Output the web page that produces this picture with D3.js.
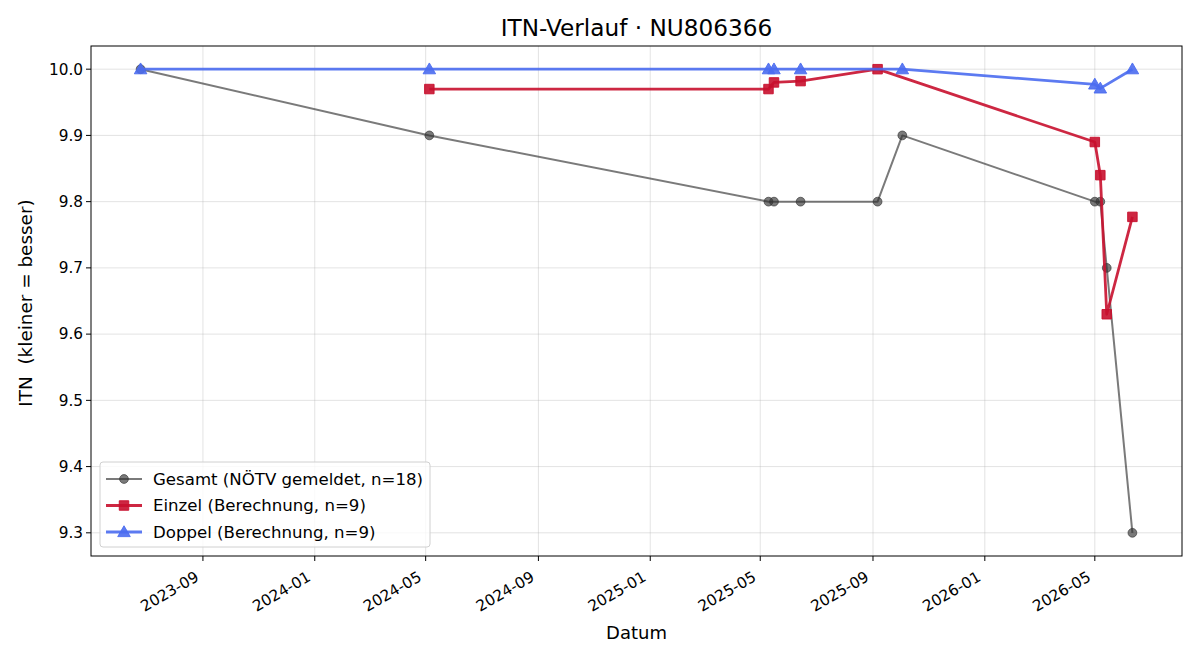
<!DOCTYPE html>
<html>
<head>
<meta charset="utf-8">
<script src="https://cdn.jsdelivr.net/npm/d3@7"></script>
<style>
  body { margin: 0; background: #fff; }
  svg { font-family: "DejaVu Sans", sans-serif; }
</style>
</head>
<body>
<svg id="svg" width="1200" height="660"></svg>
<script>
// data
var gesamtDates = ["2023-06-25","2024-05-05","2025-05-10","2025-05-16","2025-06-14","2025-09-06","2025-10-03","2026-05-01","2026-05-07","2026-05-14","2026-06-11"];
var gesamtValues = [10.0, 9.9, 9.8, 9.8, 9.8, 9.8, 9.9, 9.8, 9.8, 9.7, 9.3];

var einzelDates = ["2024-05-05","2025-05-10","2025-05-16","2025-06-14","2025-09-06","2026-05-01","2026-05-07","2026-05-14","2026-06-11"];
var einzelValues = [9.97, 9.97, 9.98, 9.982, 10.0, 9.89, 9.84, 9.63, 9.777];

var doppelDates = ["2023-06-25","2024-05-05","2025-05-10","2025-05-16","2025-06-14","2025-10-03","2026-05-01","2026-05-07","2026-06-11"];
var doppelValues = [10.0, 10.0, 10.0, 10.0, 10.0, 10.0, 9.977, 9.971, 10.0];

var seriesNames = ["Gesamt (NÖTV gemeldet, n=18)", "Einzel (Berechnung, n=9)", "Doppel (Berechnung, n=9)"];
var yTicks = [9.3, 9.4, 9.5, 9.6, 9.7, 9.8, 9.9, 10.0];
var xTickLabels = ["2023-09","2024-01","2024-05","2024-09","2025-01","2025-05","2025-09","2026-01","2026-05"];

var width = 1200, height = 660;
var pLeft = 91, pRight = 1182, pTop = 46, pBottom = 556;
var parse = d3.timeParse("%Y-%m-%d");
var parseM = d3.timeParse("%Y-%m");

function zip(ds, vs) { return ds.map(function(d, i) { return { date: parse(d), v: vs[i] }; }); }
var series = [
  { name: seriesNames[0], data: zip(gesamtDates, gesamtValues), color: "#333333", alpha: 0.65, lw: 2, marker: "circle" },
  { name: seriesNames[1], data: zip(einzelDates, einzelValues), color: "#c8102e", alpha: 0.9, lw: 2.8, marker: "square" },
  { name: seriesNames[2], data: zip(doppelDates, doppelValues), color: "#4a6cf0", alpha: 0.9, lw: 2.8, marker: "triangle" }
];

var allDates = [].concat.apply([], series.map(function(s) { return s.data.map(function(d) { return +d.date; }); }));
var dmin = d3.min(allDates), dmax = d3.max(allDates), pad = (dmax - dmin) * 0.05;
var x = d3.scaleTime().domain([new Date(dmin - pad), new Date(dmax + pad)]).range([pLeft, pRight]);
var y = d3.scaleLinear().domain([9.3 - 0.035, 10.0 + 0.035]).range([pBottom, pTop]);

var svg = d3.select("svg");
svg.append("rect").attr("width", width).attr("height", height).attr("fill", "#fff");

// grid
var xt = xTickLabels.map(function(t) { return parseM(t); });
svg.append("g").selectAll("line").data(xt).enter().append("line")
  .attr("x1", function(d) { return x(d); }).attr("x2", function(d) { return x(d); })
  .attr("y1", pTop).attr("y2", pBottom)
  .attr("stroke", "#b0b0b0").attr("stroke-opacity", 0.35).attr("stroke-width", 1);
svg.append("g").selectAll("line").data(yTicks).enter().append("line")
  .attr("x1", pLeft).attr("x2", pRight)
  .attr("y1", function(d) { return y(d); }).attr("y2", function(d) { return y(d); })
  .attr("stroke", "#b0b0b0").attr("stroke-opacity", 0.35).attr("stroke-width", 1);

// series
var line = d3.line().x(function(d) { return x(d.date); }).y(function(d) { return y(d.v); });
function symbolPath(m) {
  if (m === "circle") return d3.symbol().type(d3.symbolCircle).size(Math.PI * 4.4 * 4.4)();
  if (m === "square") return d3.symbol().type(d3.symbolSquare).size(9.5 * 9.5)();
  return d3.symbol().type(d3.symbolTriangle).size(68)();
}
series.forEach(function(s) {
  var g = svg.append("g");
  g.append("path").datum(s.data).attr("d", line)
    .attr("fill", "none").attr("stroke", s.color).attr("stroke-width", s.lw)
    .attr("stroke-opacity", s.alpha).attr("stroke-linejoin", "round");
  g.selectAll(".m").data(s.data).enter().append("path")
    .attr("d", symbolPath(s.marker))
    .attr("transform", function(d) { return "translate(" + x(d.date) + "," + (y(d.v) + (s.marker === "triangle" ? 1 : 0)) + ")"; })
    .attr("fill", s.color).attr("fill-opacity", s.alpha)
    .attr("stroke", s.color).attr("stroke-opacity", s.alpha).attr("stroke-width", 1);
});

// frame
svg.append("rect").attr("x", pLeft).attr("y", pTop).attr("width", pRight - pLeft).attr("height", pBottom - pTop)
  .attr("fill", "none").attr("stroke", "#000").attr("stroke-width", 1);

// x axis
var xg = svg.append("g");
xt.forEach(function(d, i) {
  var px = x(d);
  xg.append("line").attr("x1", px).attr("x2", px).attr("y1", pBottom).attr("y2", pBottom + 5).attr("stroke", "#000");
  xg.append("text").attr("transform", "translate(" + (px - 3) + "," + (pBottom + 24) + ") rotate(-30)")
    .attr("text-anchor", "end")
    .attr("font-size", 15.3).text(xTickLabels[i]);
});
svg.append("text").attr("x", (pLeft + pRight) / 2).attr("y", 639).attr("text-anchor", "middle")
  .attr("font-size", 18).text("Datum");

// y axis
var yg = svg.append("g");
yTicks.forEach(function(t) {
  var py = y(t);
  yg.append("line").attr("x1", pLeft - 5).attr("x2", pLeft).attr("y1", py).attr("y2", py).attr("stroke", "#000");
  yg.append("text").attr("x", pLeft - 8).attr("y", py).attr("dy", "0.35em").attr("text-anchor", "end")
    .attr("font-size", 15.3).text(d3.format(".1f")(t));
});
svg.append("text").attr("transform", "translate(32," + ((pTop + pBottom) / 2 + 2) + ") rotate(-90)")
  .attr("text-anchor", "middle").attr("font-size", 18.4).attr("xml:space", "preserve")
  .text("ITN  (kleiner = besser)");

// title
svg.append("text").attr("x", (pLeft + pRight) / 2).attr("y", 36).attr("text-anchor", "middle")
  .attr("font-size", 23.2).text("ITN-Verlauf · NU806366");

// legend
var lg = svg.append("g").attr("transform", "translate(100,462)");
lg.append("rect").attr("width", 330).attr("height", 85).attr("rx", 3)
  .attr("fill", "#fff").attr("fill-opacity", 0.8).attr("stroke", "#d0d0d0");
series.forEach(function(s, i) {
  var ry = 17 + i * 26.5;
  lg.append("line").attr("x1", 6).attr("x2", 42).attr("y1", ry).attr("y2", ry)
    .attr("stroke", s.color).attr("stroke-width", s.lw).attr("stroke-opacity", s.alpha);
  lg.append("path").attr("d", symbolPath(s.marker))
    .attr("transform", "translate(24," + (ry + (s.marker === "triangle" ? 1 : 0)) + ")")
    .attr("fill", s.color).attr("fill-opacity", s.alpha)
    .attr("stroke", s.color).attr("stroke-opacity", s.alpha);
  lg.append("text").attr("x", 53).attr("y", ry).attr("dy", "0.35em")
    .attr("font-size", 16.6).text(s.name);
});
</script>
</body>
</html>
